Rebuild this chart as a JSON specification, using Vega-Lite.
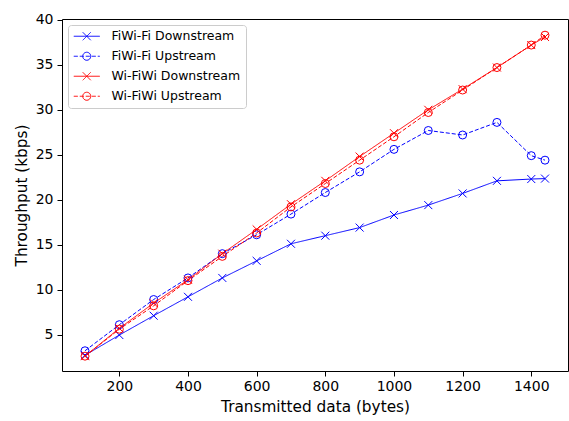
{
  "$schema": "https://vega.github.io/schema/vega-lite/v6.json",
  "width": 506,
  "height": 352,
  "autosize": "none",
  "padding": {"left": 62, "top": 19, "right": 1, "bottom": 50},
  "background": "white",
  "config": {
    "font": "DejaVu Sans",
    "view": {"stroke": "#000000", "strokeWidth": 1},
    "axis": {
      "domain": false, "grid": false, "tickColor": "#000000", "tickSize": 5, "tickWidth": 1,
      "labelFont": "DejaVu Sans", "labelFontSize": 14, "labelColor": "#000000",
      "titleFont": "DejaVu Sans", "titleFontSize": 15.3, "titleFontWeight": "normal", "titleColor": "#000000"
    }
  },
  "data": {"values": [
    {"x": 100, "y": 2.7, "series": "FiWi-Fi Downstream", "direction": "Downstream"},
    {"x": 200, "y": 4.95, "series": "FiWi-Fi Downstream", "direction": "Downstream"},
    {"x": 300, "y": 7.1, "series": "FiWi-Fi Downstream", "direction": "Downstream"},
    {"x": 400, "y": 9.2, "series": "FiWi-Fi Downstream", "direction": "Downstream"},
    {"x": 500, "y": 11.3, "series": "FiWi-Fi Downstream", "direction": "Downstream"},
    {"x": 600, "y": 13.2, "series": "FiWi-Fi Downstream", "direction": "Downstream"},
    {"x": 700, "y": 15.1, "series": "FiWi-Fi Downstream", "direction": "Downstream"},
    {"x": 800, "y": 16.0, "series": "FiWi-Fi Downstream", "direction": "Downstream"},
    {"x": 900, "y": 16.9, "series": "FiWi-Fi Downstream", "direction": "Downstream"},
    {"x": 1000, "y": 18.3, "series": "FiWi-Fi Downstream", "direction": "Downstream"},
    {"x": 1100, "y": 19.4, "series": "FiWi-Fi Downstream", "direction": "Downstream"},
    {"x": 1200, "y": 20.7, "series": "FiWi-Fi Downstream", "direction": "Downstream"},
    {"x": 1300, "y": 22.1, "series": "FiWi-Fi Downstream", "direction": "Downstream"},
    {"x": 1400, "y": 22.3, "series": "FiWi-Fi Downstream", "direction": "Downstream"},
    {"x": 1440, "y": 22.35, "series": "FiWi-Fi Downstream", "direction": "Downstream"},
    {"x": 100, "y": 3.2, "series": "FiWi-Fi Upstream", "direction": "Upstream"},
    {"x": 200, "y": 6.1, "series": "FiWi-Fi Upstream", "direction": "Upstream"},
    {"x": 300, "y": 8.9, "series": "FiWi-Fi Upstream", "direction": "Upstream"},
    {"x": 400, "y": 11.3, "series": "FiWi-Fi Upstream", "direction": "Upstream"},
    {"x": 500, "y": 14.0, "series": "FiWi-Fi Upstream", "direction": "Upstream"},
    {"x": 600, "y": 16.1, "series": "FiWi-Fi Upstream", "direction": "Upstream"},
    {"x": 700, "y": 18.4, "series": "FiWi-Fi Upstream", "direction": "Upstream"},
    {"x": 800, "y": 20.8, "series": "FiWi-Fi Upstream", "direction": "Upstream"},
    {"x": 900, "y": 23.1, "series": "FiWi-Fi Upstream", "direction": "Upstream"},
    {"x": 1000, "y": 25.6, "series": "FiWi-Fi Upstream", "direction": "Upstream"},
    {"x": 1100, "y": 27.7, "series": "FiWi-Fi Upstream", "direction": "Upstream"},
    {"x": 1200, "y": 27.2, "series": "FiWi-Fi Upstream", "direction": "Upstream"},
    {"x": 1300, "y": 28.6, "series": "FiWi-Fi Upstream", "direction": "Upstream"},
    {"x": 1400, "y": 24.9, "series": "FiWi-Fi Upstream", "direction": "Upstream"},
    {"x": 1440, "y": 24.4, "series": "FiWi-Fi Upstream", "direction": "Upstream"},
    {"x": 100, "y": 2.6, "series": "Wi-FiWi Downstream", "direction": "Downstream"},
    {"x": 200, "y": 5.7, "series": "Wi-FiWi Downstream", "direction": "Downstream"},
    {"x": 300, "y": 8.5, "series": "Wi-FiWi Downstream", "direction": "Downstream"},
    {"x": 400, "y": 11.1, "series": "Wi-FiWi Downstream", "direction": "Downstream"},
    {"x": 500, "y": 14.0, "series": "Wi-FiWi Downstream", "direction": "Downstream"},
    {"x": 600, "y": 16.7, "series": "Wi-FiWi Downstream", "direction": "Downstream"},
    {"x": 700, "y": 19.5, "series": "Wi-FiWi Downstream", "direction": "Downstream"},
    {"x": 800, "y": 22.1, "series": "Wi-FiWi Downstream", "direction": "Downstream"},
    {"x": 900, "y": 24.8, "series": "Wi-FiWi Downstream", "direction": "Downstream"},
    {"x": 1000, "y": 27.4, "series": "Wi-FiWi Downstream", "direction": "Downstream"},
    {"x": 1100, "y": 30.0, "series": "Wi-FiWi Downstream", "direction": "Downstream"},
    {"x": 1200, "y": 32.3, "series": "Wi-FiWi Downstream", "direction": "Downstream"},
    {"x": 1300, "y": 34.7, "series": "Wi-FiWi Downstream", "direction": "Downstream"},
    {"x": 1400, "y": 37.2, "series": "Wi-FiWi Downstream", "direction": "Downstream"},
    {"x": 1440, "y": 38.1, "series": "Wi-FiWi Downstream", "direction": "Downstream"},
    {"x": 100, "y": 2.6, "series": "Wi-FiWi Upstream", "direction": "Upstream"},
    {"x": 200, "y": 5.6, "series": "Wi-FiWi Upstream", "direction": "Upstream"},
    {"x": 300, "y": 8.2, "series": "Wi-FiWi Upstream", "direction": "Upstream"},
    {"x": 400, "y": 11.0, "series": "Wi-FiWi Upstream", "direction": "Upstream"},
    {"x": 500, "y": 13.7, "series": "Wi-FiWi Upstream", "direction": "Upstream"},
    {"x": 600, "y": 16.3, "series": "Wi-FiWi Upstream", "direction": "Upstream"},
    {"x": 700, "y": 19.2, "series": "Wi-FiWi Upstream", "direction": "Upstream"},
    {"x": 800, "y": 21.8, "series": "Wi-FiWi Upstream", "direction": "Upstream"},
    {"x": 900, "y": 24.4, "series": "Wi-FiWi Upstream", "direction": "Upstream"},
    {"x": 1000, "y": 27.0, "series": "Wi-FiWi Upstream", "direction": "Upstream"},
    {"x": 1100, "y": 29.7, "series": "Wi-FiWi Upstream", "direction": "Upstream"},
    {"x": 1200, "y": 32.2, "series": "Wi-FiWi Upstream", "direction": "Upstream"},
    {"x": 1300, "y": 34.7, "series": "Wi-FiWi Upstream", "direction": "Upstream"},
    {"x": 1400, "y": 37.2, "series": "Wi-FiWi Upstream", "direction": "Upstream"},
    {"x": 1440, "y": 38.3, "series": "Wi-FiWi Upstream", "direction": "Upstream"}
  ]},
  "encoding": {
    "x": {"field": "x", "type": "quantitative", "title": "Transmitted data (bytes)",
      "scale": {"domain": [33, 1507], "nice": false, "zero": false},
      "axis": {"values": [200, 400, 600, 800, 1000, 1200, 1400], "format": "d", "labelPadding": 3, "titlePadding": 6}},
    "y": {"field": "y", "type": "quantitative", "title": "Throughput (kbps)",
      "scale": {"domain": [0.95, 40.1], "nice": false, "zero": false},
      "axis": {"values": [5, 10, 15, 20, 25, 30, 35, 40], "labelPadding": 4, "titlePadding": 6}},
    "color": {"field": "series", "type": "nominal",
      "scale": {"domain": ["FiWi-Fi Downstream", "FiWi-Fi Upstream", "Wi-FiWi Downstream", "Wi-FiWi Upstream"],
        "range": ["#0000ff", "#0000ff", "#ff0000", "#ff0000"]},
      "legend": {
        "title": null, "orient": "top-left", "offset": 6, "padding": 5,
        "fillColor": "rgba(255,255,255,0.8)", "strokeColor": "#cccccc", "cornerRadius": 3,
        "labelFont": "DejaVu Sans", "labelFontSize": 12.5, "labelColor": "#000000", "labelLimit": 300,
        "symbolSize": 100, "symbolStrokeWidth": 1, "labelOffset": 26, "rowPadding": 7,
        "encode": {"symbols": {"update": {
          "shape": {"signal": "indexof(datum.value, 'Downstream') >= 0 ? 'M-1.1,0H4.1M0.7,-0.8L2.3,0.8M0.7,0.8L2.3,-0.8' : 'M-1.1,0H-0.3M0.1,0H0.9M1.3,0H2.1M2.5,0H3.3M3.7,0H4.1M2.3,0A0.8,0.8 0 1,1 0.7,0A0.8,0.8 0 1,1 2.3,0'"},
          "fill": {"value": "transparent"},
          "strokeDash": {"value": [1, 0]}
        }}}
      }}
  },
  "layer": [
    {
      "mark": {"type": "line", "strokeWidth": 1},
      "encoding": {
        "detail": {"field": "series"},
        "strokeDash": {"field": "direction", "type": "nominal", "legend": null,
          "scale": {"domain": ["Downstream", "Upstream"], "range": [[1, 0], [4, 2]]}}
      }
    },
    {
      "mark": {"type": "point", "filled": false, "strokeWidth": 1, "size": 64, "opacity": 1},
      "encoding": {
        "shape": {"field": "direction", "type": "nominal", "legend": null,
          "scale": {"domain": ["Downstream", "Upstream"], "range": ["M-1,-1L1,1M-1,1L1,-1", "circle"]}}
      }
    }
  ]
}
